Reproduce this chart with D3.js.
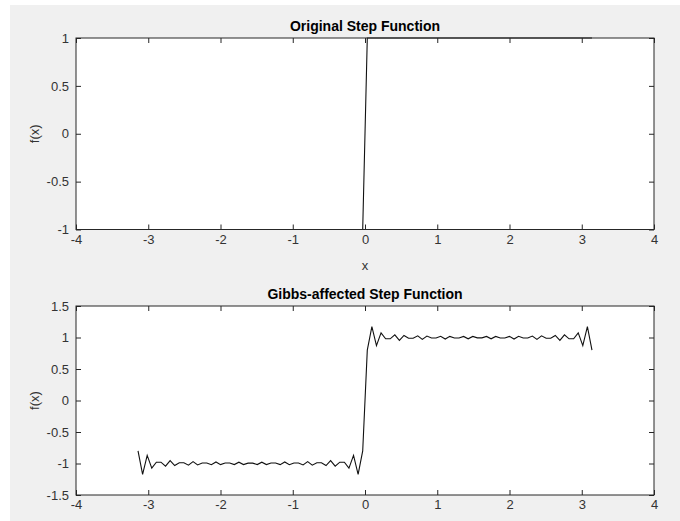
<!DOCTYPE html>
<html>
<head>
<meta charset="utf-8">
<script src="https://cdn.jsdelivr.net/npm/d3@7"></script>
<style>
  html, body { margin: 0; padding: 0; background: #ffffff; }
  svg { display: block; }
  text { font-family: "Liberation Sans", Arial, Helvetica, sans-serif; }
</style>
</head>
<body>
<svg id="chart" width="680" height="521"></svg>
<script>
// Sample grid: 100 points spread evenly over [-pi, pi]
const xStart = -Math.PI;
const xEnd = Math.PI;

// Ideal step: -1 left of zero, +1 right of zero
const stepValues = [
  -1, -1, -1, -1, -1, -1, -1, -1, -1, -1,
  -1, -1, -1, -1, -1, -1, -1, -1, -1, -1,
  -1, -1, -1, -1, -1, -1, -1, -1, -1, -1,
  -1, -1, -1, -1, -1, -1, -1, -1, -1, -1,
  -1, -1, -1, -1, -1, -1, -1, -1, -1, -1,
   1,  1,  1,  1,  1,  1,  1,  1,  1,  1,
   1,  1,  1,  1,  1,  1,  1,  1,  1,  1,
   1,  1,  1,  1,  1,  1,  1,  1,  1,  1,
   1,  1,  1,  1,  1,  1,  1,  1,  1,  1,
   1,  1,  1,  1,  1,  1,  1,  1,  1,  1
];

// Band-limited step showing the Gibbs ringing
const gibbsValues = [
  -0.800, -1.174, -0.871, -1.074, -0.979, -0.979, -1.043, -0.954, -1.033, -0.989,
  -0.989, -1.026, -0.970, -1.022, -0.992, -0.992, -1.020, -0.976, -1.018, -0.993,
  -0.993, -1.017, -0.979, -1.017, -0.994, -0.994, -1.017, -0.979, -1.017, -0.993,
  -0.993, -1.018, -0.976, -1.020, -0.992, -0.992, -1.022, -0.970, -1.026, -0.989,
  -0.989, -1.033, -0.954, -1.043, -0.979, -0.979, -1.074, -0.871, -1.174, -0.800,
   0.800,  1.174,  0.871,  1.074,  0.979,  0.979,  1.043,  0.954,  1.033,  0.989,
   0.989,  1.026,  0.970,  1.022,  0.992,  0.992,  1.020,  0.976,  1.018,  0.993,
   0.993,  1.017,  0.979,  1.017,  0.994,  0.994,  1.017,  0.979,  1.017,  0.993,
   0.993,  1.018,  0.976,  1.020,  0.992,  0.992,  1.022,  0.970,  1.026,  0.989,
   0.989,  1.033,  0.954,  1.043,  0.979,  0.979,  1.074,  0.871,  1.174,  0.800
];

const xDomain = [-4, 4];
const xTicks = [-4, -3, -2, -1, 0, 1, 2, 3, 4];
const topYDomain = [-1, 1];
const topYTicks = [-1, -0.5, 0, 0.5, 1];
const bottomYDomain = [-1.5, 1.5];
const bottomYTicks = [-1.5, -1, -0.5, 0, 0.5, 1, 1.5];

const titles = ["Original Step Function", "Gibbs-affected Step Function"];
const xLabel = "x";
const yLabel = "f(x)";

const svg = d3.select("#chart");
const W = 680, H = 521;

// Figure background
svg.append("rect").attr("x", 10).attr("y", 5)
  .attr("width", W - 10).attr("height", H - 5)
  .attr("fill", "#f0f0f0");

const axisColor = "#262626";
const tickLen = 5;
const fmt = d => String(d);

const panels = [
  { top: 38, bottom: 229.5, yDomain: topYDomain, yTicks: topYTicks,
    values: stepValues, title: titles[0], xLabel: xLabel },
  { top: 306, bottom: 495, yDomain: bottomYDomain, yTicks: bottomYTicks,
    values: gibbsValues, title: titles[1], xLabel: null }
];

const left = 76, right = 654;

panels.forEach(p => {
  const x = d3.scaleLinear().domain(xDomain).range([left, right]);
  const y = d3.scaleLinear().domain(p.yDomain).range([p.bottom, p.top]);
  const g = svg.append("g");

  // Plot area
  g.append("rect").attr("x", left).attr("y", p.top)
    .attr("width", right - left).attr("height", p.bottom - p.top)
    .attr("fill", "#ffffff");

  // Data line
  const n = p.values.length;
  const pts = p.values.map((v, i) => [xStart + i * (xEnd - xStart) / (n - 1), v]);
  g.append("path")
    .datum(pts)
    .attr("fill", "none")
    .attr("stroke", "#111111")
    .attr("stroke-width", 1.1)
    .attr("stroke-linejoin", "miter")
    .attr("d", d3.line().x(d => x(d[0])).y(d => y(d[1])));

  // Axes with inward ticks on all four sides
  const styleAxis = sel => {
    sel.select(".domain").remove();
    sel.selectAll("line").attr("stroke", axisColor).attr("stroke-width", 1);
    sel.selectAll("text").attr("fill", "#333333").style("font-size", "13px");
  };

  g.append("g").attr("transform", `translate(0,${p.bottom})`)
    .call(d3.axisBottom(x).tickValues(xTicks).tickFormat(fmt)
      .tickSizeInner(-tickLen).tickSizeOuter(0).tickPadding(5))
    .call(styleAxis)
    .call(s => s.selectAll("text").attr("dy", "0.71em"));

  g.append("g").attr("transform", `translate(0,${p.top})`)
    .call(d3.axisTop(x).tickValues(xTicks).tickFormat("")
      .tickSizeInner(-tickLen).tickSizeOuter(0))
    .call(styleAxis);

  g.append("g").attr("transform", `translate(${left},0)`)
    .call(d3.axisLeft(y).tickValues(p.yTicks).tickFormat(fmt)
      .tickSizeInner(-tickLen).tickSizeOuter(0).tickPadding(7))
    .call(styleAxis);

  g.append("g").attr("transform", `translate(${right},0)`)
    .call(d3.axisRight(y).tickValues(p.yTicks).tickFormat("")
      .tickSizeInner(-tickLen).tickSizeOuter(0))
    .call(styleAxis);

  // Box
  g.append("rect").attr("x", left).attr("y", p.top)
    .attr("width", right - left).attr("height", p.bottom - p.top)
    .attr("fill", "none").attr("stroke", axisColor).attr("stroke-width", 1);

  // Title
  g.append("text")
    .attr("x", (left + right) / 2).attr("y", p.top - 7)
    .attr("text-anchor", "middle")
    .attr("fill", "#000000")
    .style("font-size", "14px").style("font-weight", "bold")
    .text(p.title);

  // Axis labels
  if (p.xLabel) {
    g.append("text")
      .attr("x", (left + right) / 2).attr("y", p.bottom + 40)
      .attr("text-anchor", "middle")
      .attr("fill", "#333333")
      .style("font-size", "13px")
      .text(p.xLabel);
  }
  g.append("text")
    .attr("transform", `translate(39,${(p.top + p.bottom) / 2}) rotate(-90)`)
    .attr("text-anchor", "middle")
    .attr("fill", "#333333")
    .style("font-size", "13px")
    .text(yLabel);
});
</script>
</body>
</html>
